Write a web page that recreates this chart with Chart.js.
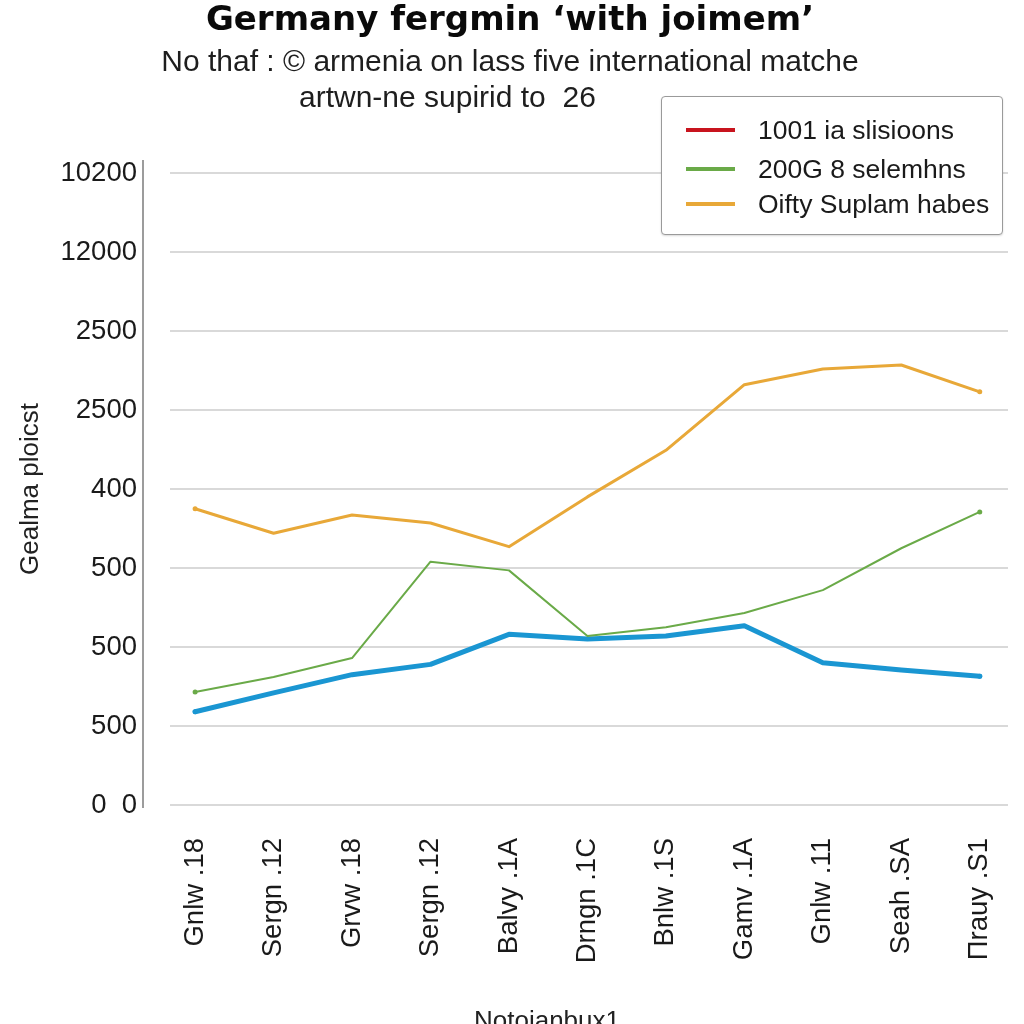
<!DOCTYPE html>
<html>
<head>
<meta charset="utf-8">
<script src="https://cdn.jsdelivr.net/npm/chart.js@4"></script>
<style>
  html, body { margin: 0; padding: 0; background: #fff; overflow: hidden; }
  body { width: 1024px; height: 1024px; position: relative; font-family: 'Liberation Sans', Arial, sans-serif; color: #111; }
  canvas { position: absolute; left: 0; top: 0; }
  .txt { position: absolute; white-space: nowrap; line-height: 1; }
  #title { left: 0; width: 1020px; top: 1px; text-align: center; font-family: 'DejaVu Sans', sans-serif; font-weight: bold; font-size: 34px; color: #0a0a0a; }
  #sub1 { left: 0; width: 1020px; top: 46px; text-align: center; font-size: 30px; color: #1e1e1e; }
  #sub2 { left: 299px; top: 82px; font-size: 30px; color: #1e1e1e; }
  #legend { position: absolute; left: 661px; top: 96px; width: 340px; height: 137px; border: 1.5px solid #9a9a9a; border-radius: 4px; background: #fff; box-shadow: 0 1px 2px rgba(0,0,0,0.15); }
  .item { position: absolute; left: 24px; height: 30px; }
  .swatch { position: absolute; left: 0; top: 13px; width: 49px; height: 4px; }
  .label { position: absolute; left: 72px; top: 0px; font-size: 26.5px; color: #1a1a1a; white-space: nowrap; }
  #xtitle { left: 0; width: 1094px; top: 1007px; text-align: center; font-size: 26px; color: #222; }
</style>
</head>
<body>
<canvas id="canvas" width="1024" height="1024"></canvas>
<div id="title" class="txt">Germany fergmin ‘with joimem’</div>
<div id="sub1" class="txt">No thaf : © armenia on lass five international matche</div>
<div id="sub2" class="txt">artwn-ne supirid to&nbsp;&nbsp;26</div>
<div id="legend"></div>
<div id="xtitle" class="txt">Notojanbux1</div>
<script>
'use strict';

// categories along the bottom
const categories = ['Gnlw .18', 'Sergn .12', 'Grvw .18', 'Sergn .12', 'Balvy .1A', 'Drngn .1C',
  'Bnlw .1S', 'Gamv .1A', 'Gnlw .11', 'Seah .SA', 'Πrauy .S1'];

// y tick labels, bottom to top (one per gridline)
const yTickLabels = ['0  0', '500', '500', '500', '400', '2500', '2500', '12000', '10200'];

// series values, in gridline steps
const orangeValues = [3.75, 3.44, 3.67, 3.57, 3.27, 3.90, 4.49, 5.32, 5.52, 5.57, 5.23];
const greenValues = [1.43, 1.62, 1.86, 3.08, 2.97, 2.14, 2.25, 2.43, 2.72, 3.25, 3.71];
const blueValues = [1.18, 1.42, 1.65, 1.78, 2.16, 2.10, 2.14, 2.27, 1.80, 1.71, 1.63];
const redValues = [];

// legend entries
const legendLabels = ['1001 ia slisioons', '200G 8 selemhns', 'Oifty Suplam habes'];
const legendColors = ['#c8141e', '#6aaa48', '#e8a838'];

const yTitle = 'Gealma ploicst';

// pair each value with its category index
const toPoints = values => values.map((v, i) => ({ x: i, y: v }));

const endDot = ctx => (ctx.dataIndex === 0 || ctx.dataIndex === categories.length - 1) ? 2.5 : 0;

// y axis line sits a bit left of where the gridlines start
const axisLine = {
  id: 'axisLine',
  afterDraw(chart) {
    const { ctx, chartArea } = chart;
    ctx.save();
    ctx.strokeStyle = '#9c9c9c';
    ctx.lineWidth = 2;
    ctx.beginPath();
    ctx.moveTo(chartArea.left - 27, chartArea.top - 13);
    ctx.lineTo(chartArea.left - 27, chartArea.bottom + 3);
    ctx.stroke();
    ctx.restore();
  }
};

const chart = new Chart(document.getElementById('canvas').getContext('2d'), {
  type: 'line',
  data: {
    datasets: [
      { label: legendLabels[0], data: toPoints(redValues), borderColor: legendColors[0], borderWidth: 3 },
      { label: legendLabels[1], data: toPoints(greenValues), borderColor: legendColors[1], borderWidth: 2,
        pointRadius: endDot, pointBackgroundColor: legendColors[1], pointBorderWidth: 0 },
      { label: legendLabels[2], data: toPoints(orangeValues), borderColor: legendColors[2], borderWidth: 3,
        pointRadius: endDot, pointBackgroundColor: legendColors[2], pointBorderWidth: 0 },
      { label: 'blue', data: toPoints(blueValues), borderColor: '#1a96d2', borderWidth: 5,
        pointRadius: endDot, pointBackgroundColor: '#1a96d2', pointBorderWidth: 0 }
    ]
  },
  options: {
    responsive: false,
    animation: false,
    layout: { padding: { top: 173, right: 16, left: 0, bottom: 0 } },
    elements: { line: { tension: 0, borderCapStyle: 'round', borderJoinStyle: 'round' } },
    plugins: {
      legend: { display: false },
      title: { display: false },
      tooltip: { enabled: false }
    },
    scales: {
      x: {
        type: 'linear',
        min: -0.32, max: 10.36,
        afterFit: scale => {
          scale.height = 219;
          scale.paddingLeft = 0;
          scale.paddingRight = 0;
        },
        afterBuildTicks: scale => { scale.ticks = categories.map((c, i) => ({ value: i })); },
        grid: { display: false },
        border: { display: false },
        ticks: {
          maxRotation: 90, minRotation: 90, padding: 25, autoSkip: false,
          color: '#1a1a1a', font: { family: 'Liberation Sans', size: 27.5 },
          callback: v => categories[v]
        }
      },
      y: {
        min: 0, max: 8,
        afterFit: scale => {
          scale.width = 170;
          scale.paddingTop = 0;
          scale.paddingBottom = 0;
        },
        grid: { color: '#d9d9d9', lineWidth: 2, drawTicks: false },
        border: { display: false },
        ticks: {
          stepSize: 1, padding: 33,
          color: '#1a1a1a', font: { family: 'Liberation Sans', size: 27.5 },
          callback: v => yTickLabels[v]
        },
        title: {
          display: true, text: yTitle, color: '#222',
          font: { family: 'Liberation Sans', size: 26 }, padding: { top: 15, bottom: 0 }
        }
      }
    }
  },
  plugins: [axisLine]
});

// html legend box
const legendBox = document.getElementById('legend');
const tops = [18, 57, 92];
legendLabels.forEach((name, i) => {
  const item = document.createElement('div');
  item.className = 'item';
  item.style.top = tops[i] + 'px';
  item.innerHTML = '<div class="swatch" style="background:' + legendColors[i] + '"></div>' +
    '<div class="label">' + name + '</div>';
  legendBox.appendChild(item);
});
</script>
</body>
</html>
